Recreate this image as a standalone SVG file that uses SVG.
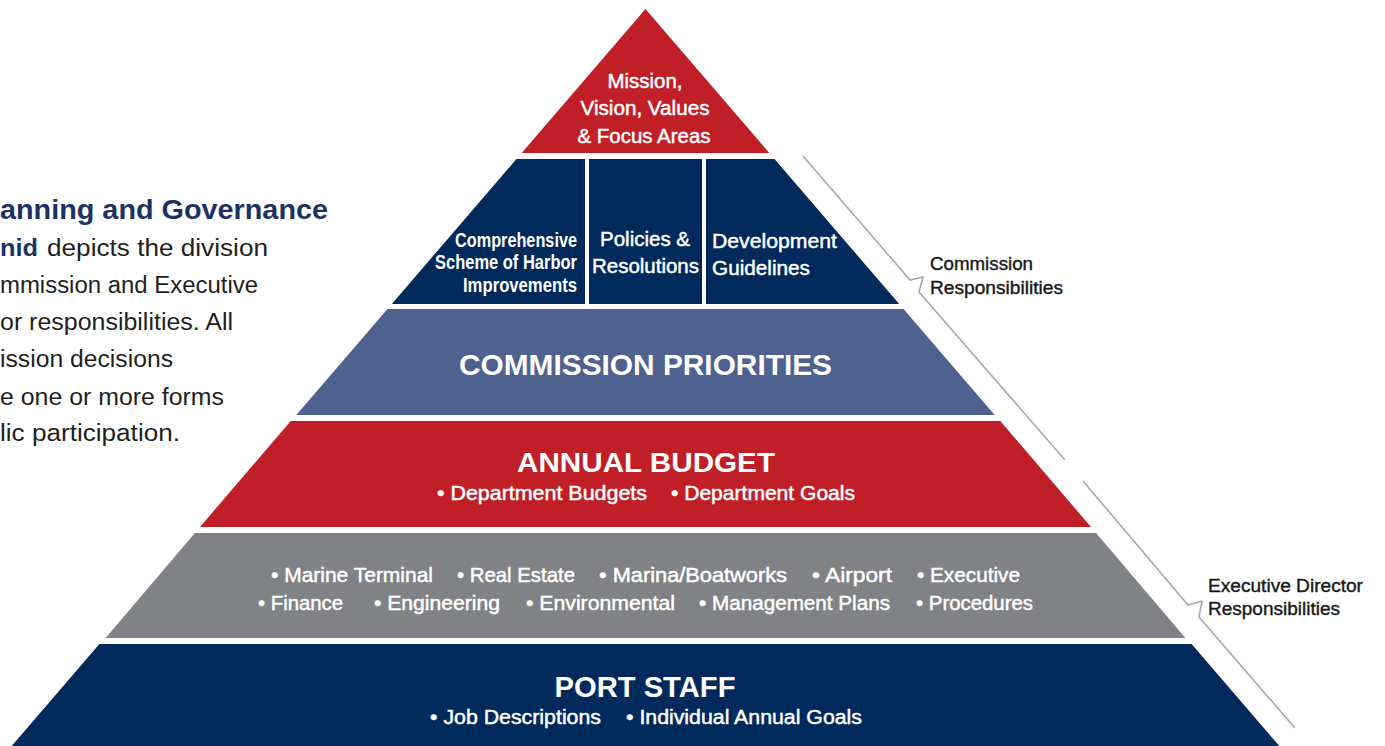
<svg xmlns="http://www.w3.org/2000/svg" width="1385" height="746" viewBox="0 0 1385 746">
  <style>
    .t { font-family: "Liberation Sans", Arial, sans-serif; }
    .w { fill: #ffffff; }
    .m { font-family: "Liberation Sans", Arial, sans-serif; font-size: 20px; fill: #ffffff; stroke: #ffffff; stroke-width: 0.45px; }
    .c { font-family: "Liberation Sans", Arial, sans-serif; font-size: 16.5px; font-weight: bold; fill: #ffffff; }
    .h { font-family: "Liberation Sans", Arial, sans-serif; font-weight: bold; fill: #ffffff; text-anchor: middle; }
    .lab { font-family: "Liberation Sans", Arial, sans-serif; font-size: 18px; fill: #1a1a1a; stroke: #1a1a1a; stroke-width: 0.4px; }
    .body { font-family: "Liberation Sans", Arial, sans-serif; font-size: 23px; fill: #231f20; }
    .navy { fill: #002a5c; }
    .red { fill: #c11f28; }
    .slate { fill: #4f628f; }
    .gray { fill: #808285; }
    .conn { fill: none; stroke: #a7a9ac; stroke-width: 1.6; stroke-linejoin: miter; }
  </style>

  <g id="intro-text">
    <text class="t" x="0" y="219" font-size="27" font-weight="bold" fill="#1c3262" textLength="328" lengthAdjust="spacingAndGlyphs">anning and Governance</text>
    <text class="body" x="0" y="256"><tspan font-weight="bold" fill="#1c3262" textLength="38" lengthAdjust="spacingAndGlyphs">nid</tspan><tspan x="47" textLength="221" lengthAdjust="spacingAndGlyphs">depicts the division</tspan></text>
    <text class="body" x="0" y="293" textLength="258" lengthAdjust="spacingAndGlyphs">mmission and Executive</text>
    <text class="body" x="0" y="330" textLength="233" lengthAdjust="spacingAndGlyphs">or responsibilities. All</text>
    <text class="body" x="0" y="367" textLength="173" lengthAdjust="spacingAndGlyphs">ission decisions</text>
    <text class="body" x="0" y="405" textLength="224" lengthAdjust="spacingAndGlyphs">e one or more forms</text>
    <text class="body" x="0" y="441" textLength="180" lengthAdjust="spacingAndGlyphs">lic participation.</text>
  </g>

  <g id="tier-mission">
    <polygon class="red" points="645.5,9 769.3,153 521.7,153"/>
    <text class="m" x="645" y="88" text-anchor="middle" textLength="75" lengthAdjust="spacingAndGlyphs">Mission,</text>
    <text class="m" x="645" y="115" text-anchor="middle" textLength="129" lengthAdjust="spacingAndGlyphs">Vision, Values</text>
    <text class="m" x="644" y="142.5" text-anchor="middle" textLength="133" lengthAdjust="spacingAndGlyphs">&amp; Focus Areas</text>
  </g>

  <g id="tier-commission-docs">
    <polygon class="navy" points="516.5,159 774.5,159 899.2,304 391.8,304"/>
    <rect x="585" y="158" width="4" height="147" fill="#ffffff"/>
    <rect x="702" y="158" width="4" height="147" fill="#ffffff"/>
    <g id="node-cship">
      <text class="c" x="455" y="247" transform="matrix(1 0 0 1.22 0 -54.34)" textLength="122" lengthAdjust="spacingAndGlyphs">Comprehensive</text>
      <text class="c" x="435" y="269.5" transform="matrix(1 0 0 1.22 0 -59.29)" textLength="142" lengthAdjust="spacingAndGlyphs">Scheme of Harbor</text>
      <text class="c" x="463" y="292" transform="matrix(1 0 0 1.22 0 -64.24)" textLength="114" lengthAdjust="spacingAndGlyphs">Improvements</text>
    </g>
    <g id="node-policies">
      <text class="m" x="600" y="246" textLength="90" lengthAdjust="spacingAndGlyphs">Policies &amp;</text>
      <text class="m" x="592" y="273" textLength="107" lengthAdjust="spacingAndGlyphs">Resolutions</text>
    </g>
    <g id="node-guidelines">
      <text class="m" x="712" y="248" textLength="125" lengthAdjust="spacingAndGlyphs">Development</text>
      <text class="m" x="712" y="275" textLength="98" lengthAdjust="spacingAndGlyphs">Guidelines</text>
    </g>
  </g>

  <g id="tier-commission-priorities">
    <polygon class="slate" points="387.5,309 903.5,309 994.7,415 296.3,415"/>
    <text class="h" x="645.5" y="375" font-size="30" textLength="373" lengthAdjust="spacingAndGlyphs">COMMISSION PRIORITIES</text>
  </g>

  <g id="tier-annual-budget">
    <polygon class="red" points="290.7,421 1000.3,421 1091,527 200,527"/>
    <text class="h" x="646" y="472" font-size="28" textLength="258" lengthAdjust="spacingAndGlyphs">ANNUAL BUDGET</text>
    <text class="m" x="437" y="500" textLength="210" lengthAdjust="spacingAndGlyphs">• Department Budgets</text>
    <text class="m" x="671" y="500" textLength="184" lengthAdjust="spacingAndGlyphs">• Department Goals</text>
  </g>

  <g id="tier-departments">
    <polygon class="gray" points="194.9,533 1096.1,533 1185.4,638 105.6,638"/>
    <text class="m" x="271" y="581.5" textLength="162" lengthAdjust="spacingAndGlyphs">• Marine Terminal</text>
    <text class="m" x="457" y="581.5" textLength="118" lengthAdjust="spacingAndGlyphs">• Real Estate</text>
    <text class="m" x="599" y="581.5" textLength="188" lengthAdjust="spacingAndGlyphs">• Marina/Boatworks</text>
    <text class="m" x="812" y="581.5" textLength="80" lengthAdjust="spacingAndGlyphs">• Airport</text>
    <text class="m" x="917" y="581.5" textLength="103" lengthAdjust="spacingAndGlyphs">• Executive</text>
    <text class="m" x="258" y="609.5" textLength="85" lengthAdjust="spacingAndGlyphs">• Finance</text>
    <text class="m" x="374" y="609.5" textLength="126" lengthAdjust="spacingAndGlyphs">• Engineering</text>
    <text class="m" x="526" y="609.5" textLength="149" lengthAdjust="spacingAndGlyphs">• Environmental</text>
    <text class="m" x="699" y="609.5" textLength="191" lengthAdjust="spacingAndGlyphs">• Management Plans</text>
    <text class="m" x="916" y="609.5" textLength="117" lengthAdjust="spacingAndGlyphs">• Procedures</text>
  </g>

  <g id="tier-port-staff">
    <polygon class="navy" points="99.4,644 1191.6,644 1279.3,746 11.7,746"/>
    <text class="h" x="645" y="697" font-size="29" textLength="181" lengthAdjust="spacingAndGlyphs">PORT STAFF</text>
    <text class="m" x="430" y="723.5" textLength="171" lengthAdjust="spacingAndGlyphs">• Job Descriptions</text>
    <text class="m" x="626" y="723.5" textLength="236" lengthAdjust="spacingAndGlyphs">• Individual Annual Goals</text>
  </g>

  <g id="connectors">
    <path class="conn" d="M803,156 L910,280 L923,277 L919,292 L1065,460"/>
    <path class="conn" d="M1083,481 L1188,605 L1202,601 L1199,617 L1295,728"/>
  </g>

  <g id="label-commission">
    <text class="lab" x="930" y="270" textLength="103" lengthAdjust="spacingAndGlyphs">Commission</text>
    <text class="lab" x="930" y="293.5" textLength="133" lengthAdjust="spacingAndGlyphs">Responsibilities</text>
  </g>
  <g id="label-executive">
    <text class="lab" x="1208" y="591.5" textLength="155" lengthAdjust="spacingAndGlyphs">Executive Director</text>
    <text class="lab" x="1208" y="615" textLength="132" lengthAdjust="spacingAndGlyphs">Responsibilities</text>
  </g>
</svg>
